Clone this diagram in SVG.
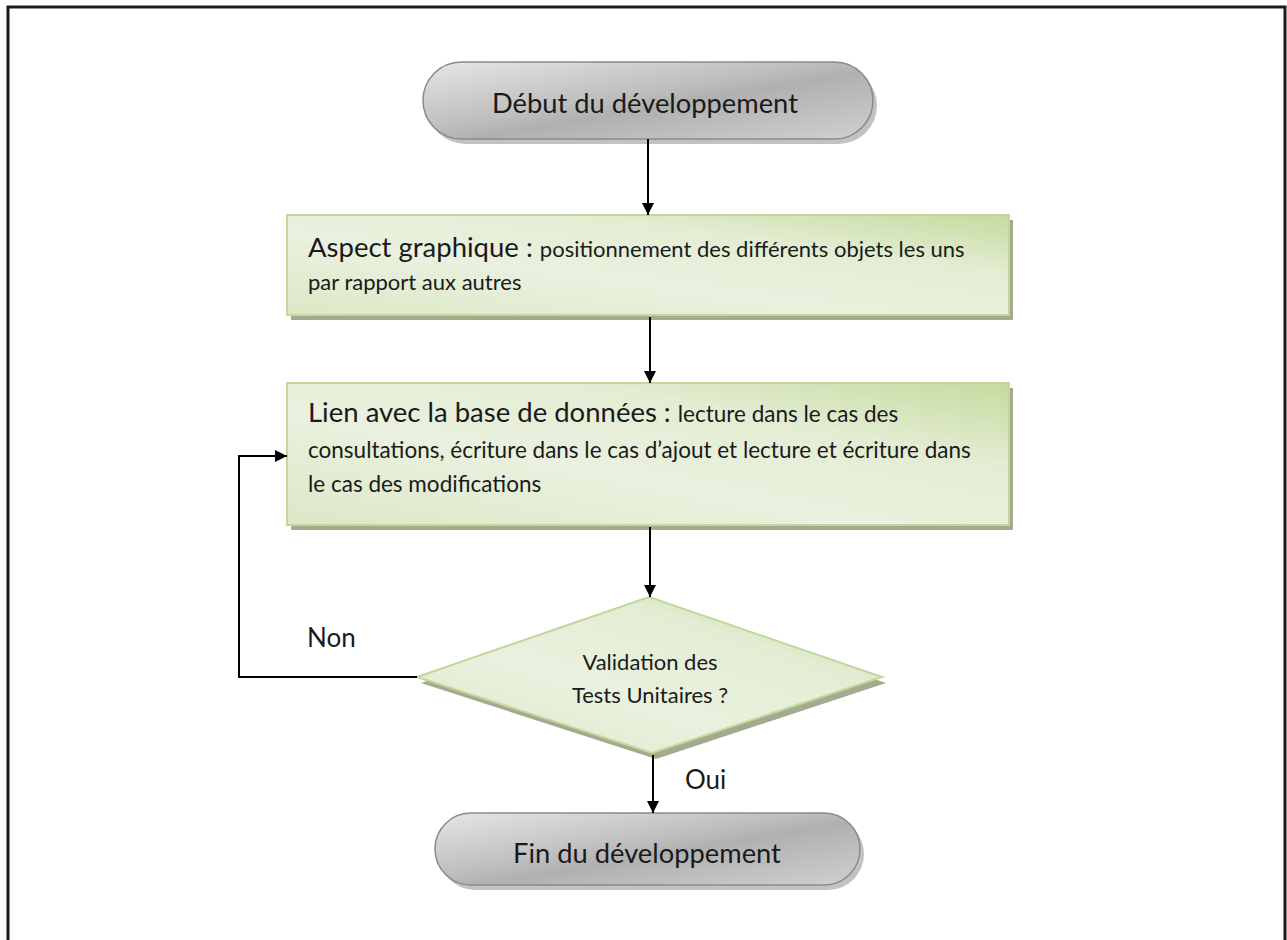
<svg xmlns="http://www.w3.org/2000/svg" width="1287" height="940" viewBox="0 0 1287 940">
<style>
.t{font-family:Lato,"Open Sans","Liberation Sans",sans-serif;fill:#1a1a1a}
.c{stroke:#000;stroke-width:2;fill:none}
</style>
<defs>
<linearGradient id="gray" x1="0" y1="0" x2="1" y2="1">
<stop offset="0" stop-color="#e6e6e6"/><stop offset="0.45" stop-color="#bdbdbd"/><stop offset="0.55" stop-color="#b0b0b0"/><stop offset="1" stop-color="#d0d0d0"/>
</linearGradient>
<linearGradient id="green" x1="0" y1="1" x2="1" y2="0">
<stop offset="0" stop-color="#dbe8c6"/><stop offset="0.4" stop-color="#eaf1df"/><stop offset="0.7" stop-color="#e3edd3"/><stop offset="1" stop-color="#c6da9e"/>
</linearGradient>
<marker id="ah" viewBox="0 0 10 10" refX="10" refY="5" markerWidth="6" markerHeight="6" markerUnits="strokeWidth" orient="auto">
<path d="M0,0 L10,5 L0,10 z" fill="#000"/>
</marker>
</defs>
<rect x="8" y="7" width="1277" height="960" fill="#fff" stroke="#1a1a1a" stroke-width="3"/>
<g id="start">
<rect x="427" y="67" width="450" height="77" rx="38.5" fill="#9a9a9a" opacity="0.6"/>
<rect x="423" y="62" width="450" height="77" rx="38.5" fill="url(#gray)" stroke="#8a8a8a" stroke-width="1.5"/>
<text class="t" x="645" y="113" font-size="27.3" text-anchor="middle">Début du développement</text>
</g>
<g id="graphique">
<rect x="291" y="220" width="722" height="100" fill="#a2aa8f"/>
<rect x="287" y="215" width="722" height="100" fill="url(#green)" stroke="#c3d69b" stroke-width="2"/>
<text class="t" x="308" y="257"><tspan font-size="27.5">Aspect graphique : </tspan><tspan font-size="22">positionnement des différents objets les uns</tspan></text>
<text class="t" x="308" y="290" font-size="22">par rapport aux autres</text>
</g>
<g id="bdd">
<rect x="291" y="388" width="722" height="142" fill="#a2aa8f"/>
<rect x="287" y="383" width="722" height="142" fill="url(#green)" stroke="#c3d69b" stroke-width="2"/>
<text class="t" x="308" y="422"><tspan font-size="27.5">Lien avec la base de données : </tspan><tspan font-size="22.5">lecture dans le cas des</tspan></text>
<text class="t" x="308" y="458" font-size="22.5">consultations, écriture dans le cas d’ajout et lecture et écriture dans</text>
<text class="t" x="308" y="492" font-size="22.5">le cas des modifications</text>
</g>
<g id="validation">
<polygon points="653,603 886,683 656,759 421,683" fill="#a2aa8f"/>
<polygon points="649,597 882,677 652,753 417,677" fill="url(#green)" stroke="#c3d69b" stroke-width="2"/>
<text class="t" x="650" y="670" font-size="22" text-anchor="middle">Validation des</text>
<text class="t" x="650" y="703" font-size="22" text-anchor="middle">Tests Unitaires ?</text>
</g>
<g id="end">
<rect x="439" y="818" width="425" height="72" rx="36" fill="#9a9a9a" opacity="0.6"/>
<rect x="435" y="813" width="425" height="72" rx="36" fill="url(#gray)" stroke="#8a8a8a" stroke-width="1.5"/>
<text class="t" x="647" y="863" font-size="27.3" text-anchor="middle">Fin du développement</text>
</g>
<g id="connectors">
<line class="c" x1="648" y1="139" x2="648" y2="215" marker-end="url(#ah)"/>
<line class="c" x1="650" y1="317" x2="650" y2="383" marker-end="url(#ah)"/>
<line class="c" x1="650" y1="527" x2="650" y2="597" marker-end="url(#ah)"/>
<polyline class="c" points="417,677 239,677 239,456 287,456" marker-end="url(#ah)"/>
<line class="c" x1="653" y1="755" x2="653" y2="813" marker-end="url(#ah)"/>
<text class="t" x="307" y="647" font-size="26">Non</text>
<text class="t" x="685" y="789" font-size="26">Oui</text>
</g>
</svg>
